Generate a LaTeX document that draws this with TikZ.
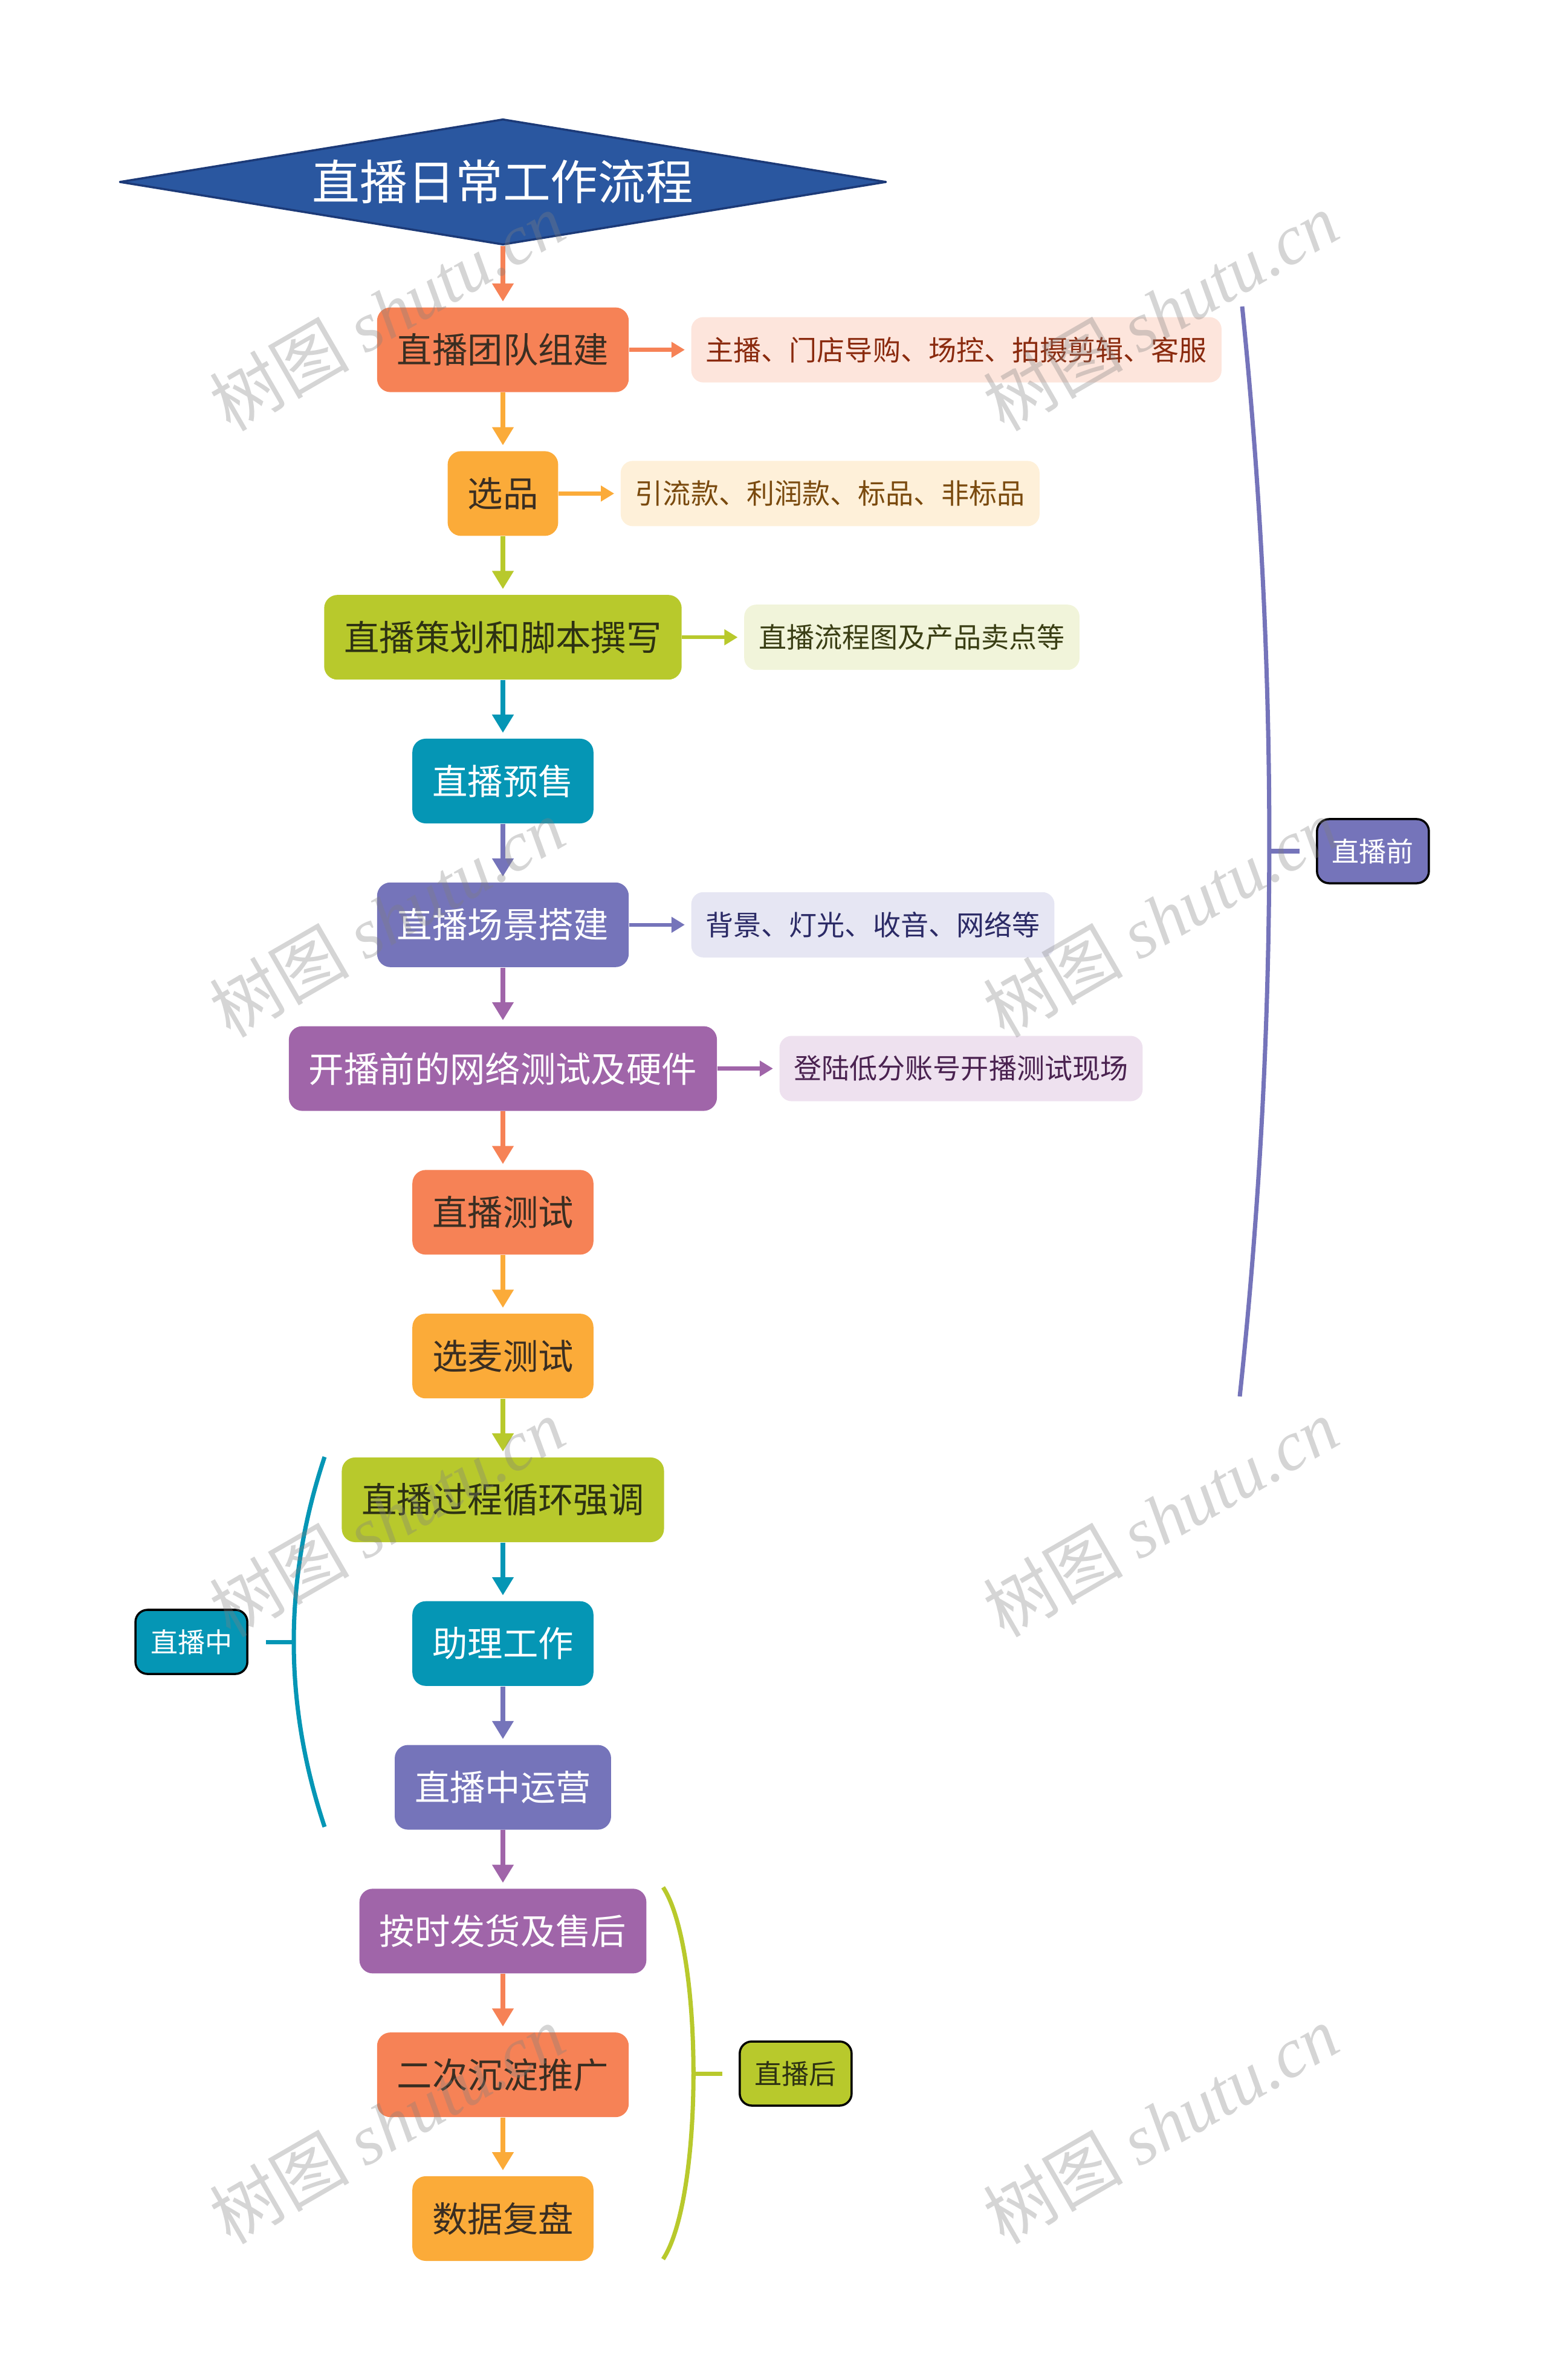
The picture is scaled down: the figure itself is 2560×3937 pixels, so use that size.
\documentclass[tikz,border=0pt]{standalone}
\usepackage{fontspec}
\setmainfont{Noto Sans CJK SC}
\newfontfamily\wmfont{Liberation Serif}
\usetikzlibrary{arrows.meta,positioning,shapes.geometric}

\definecolor{cblue}{HTML}{2A57A0}
\definecolor{cblueline}{HTML}{1C3A78}
\definecolor{corange}{HTML}{F68256}
\definecolor{cyellow}{HTML}{FBAB39}
\definecolor{clime}{HTML}{B8C92C}
\definecolor{cteal}{HTML}{0596B5}
\definecolor{cindigo}{HTML}{7574BA}
\definecolor{cpurple}{HTML}{A065A9}
\definecolor{ctextdark}{HTML}{3A2E22}
\definecolor{ctextlime}{HTML}{2D3113}
\definecolor{nfillorange}{HTML}{FDE5DC}
\definecolor{nfillyellow}{HTML}{FEF0D9}
\definecolor{nfilllime}{HTML}{F1F4DA}
\definecolor{nfillindigo}{HTML}{E6E6F3}
\definecolor{nfillpurple}{HTML}{EEE1EF}
\definecolor{ntextorange}{HTML}{8A2A0E}
\definecolor{ntextyellow}{HTML}{7A4A0E}
\definecolor{ntextlime}{HTML}{3A3E14}
\definecolor{ntextindigo}{HTML}{2B2A66}
\definecolor{ntextpurple}{HTML}{4A2250}

\tikzset{
  proc/.style 2 args={fill=#1, text=#2, rounded corners=0.22cm, minimum height=1.4cm,
    inner xsep=0.33cm, inner ysep=0pt, font=\fontsize{16.6pt}{20pt}\selectfont},
  memo/.style 2 args={fill=#1, text=#2, rounded corners=0.2cm, minimum height=1.08cm,
    inner xsep=0.24cm, inner ysep=0pt, font=\fontsize{13.1pt}{16pt}\selectfont},
  phase/.style 2 args={draw=black, line width=1pt, fill=#1, text=#2, rounded corners=0.2cm,
    minimum height=1.06cm, inner xsep=0.25cm, inner ysep=0pt, font=\fontsize{12.8pt}{15pt}\selectfont},
  flow/.style={draw=#1, line width=2.4pt, -{Triangle[width=0.34cm,length=0.3cm]}, shorten >=0.09cm},
  noteflow/.style={draw=#1, line width=1.8pt, -{Triangle[width=0.25cm,length=0.22cm]}, shorten >=0.1cm},
  phaseline/.style={draw=#1, line width=2pt},
}

\begin{document}
\begin{tikzpicture}[x=0.01cm, y=-0.01cm]

\useasboundingbox (0,0) rectangle (2560,3937);

\node (title) [shape=diamond, aspect=6, fill=cblue, draw=cblueline, line width=1pt, line join=round,
  minimum width=12.68cm, minimum height=2.08cm, inner sep=0pt, text=white,
  font=\fontsize{22.4pt}{26pt}\selectfont] at (832,301) {直播日常工作流程};

\node (team)    [proc={corange}{ctextdark}, below=1.01cm of title] {直播团队组建};
\node (pick)    [proc={cyellow}{ctextdark}, below=0.9625cm of team] {选品};
\node (script)  [proc={clime}{ctextlime}, below=0.9625cm of pick] {直播策划和脚本撰写};
\node (presale) [proc={cteal}{white}, below=0.9625cm of script] {直播预售};
\node (scene)   [proc={cindigo}{white}, below=0.9625cm of presale] {直播场景搭建};
\node (nettest) [proc={cpurple}{white}, below=0.9625cm of scene] {开播前的网络测试及硬件};
\node (trial)   [proc={corange}{ctextdark}, below=0.9625cm of nettest] {直播测试};
\node (mic)     [proc={cyellow}{ctextdark}, below=0.9625cm of trial] {选麦测试};
\node (repeat)  [proc={clime}{ctextlime}, below=0.9625cm of mic] {直播过程循环强调};
\node (helper)  [proc={cteal}{white}, below=0.9625cm of repeat] {助理工作};
\node (operate) [proc={cindigo}{white}, below=0.9625cm of helper] {直播中运营};
\node (ship)    [proc={cpurple}{white}, below=0.9625cm of operate] {按时发货及售后};
\node (promote) [proc={corange}{ctextdark}, below=0.9625cm of ship] {二次沉淀推广};
\node (review)  [proc={cyellow}{ctextdark}, below=0.9625cm of promote] {数据复盘};

\node (teamnote)   [memo={nfillorange}{ntextorange}, right=1.02cm of team] {主播、门店导购、场控、拍摄剪辑、客服};
\node (picknote)   [memo={nfillyellow}{ntextyellow}, right=1.02cm of pick] {引流款、利润款、标品、非标品};
\node (scriptnote) [memo={nfilllime}{ntextlime}, right=1.02cm of script] {直播流程图及产品卖点等};
\node (scenenote)  [memo={nfillindigo}{ntextindigo}, right=1.02cm of scene] {背景、灯光、收音、网络等};
\node (netnote)    [memo={nfillpurple}{ntextpurple}, right=1.02cm of nettest] {登陆低分账号开播测试现场};

\draw[flow=corange] (title) -- (team);
\draw[flow=cyellow] (team) -- (pick);
\draw[flow=clime] (pick) -- (script);
\draw[flow=cteal] (script) -- (presale);
\draw[flow=cindigo] (presale) -- (scene);
\draw[flow=cpurple] (scene) -- (nettest);
\draw[flow=corange] (nettest) -- (trial);
\draw[flow=cyellow] (trial) -- (mic);
\draw[flow=clime] (mic) -- (repeat);
\draw[flow=cteal] (repeat) -- (helper);
\draw[flow=cindigo] (helper) -- (operate);
\draw[flow=cpurple] (operate) -- (ship);
\draw[flow=corange] (ship) -- (promote);
\draw[flow=cyellow] (promote) -- (review);

\draw[noteflow=corange] (team) -- (teamnote);
\draw[noteflow=cyellow] (pick) -- (picknote);
\draw[noteflow=clime] (script) -- (scriptnote);
\draw[noteflow=cindigo] (scene) -- (scenenote);
\draw[noteflow=cpurple] (nettest) -- (netnote);

% phase brackets
\coordinate (pretop) at (2055,507);
\coordinate (prebot) at (2051,2310);
\coordinate (premid) at (2100,1408);
\draw[phaseline=cindigo] (pretop) .. controls (2116,1108) and (2115,1709) .. (prebot);
\node (pre) [phase={cindigo}{white}, right=0.77cm of premid] {直播前};
\draw[phaseline=cindigo, shorten >=0.27cm] (premid) -- (pre);

\coordinate (livetop) at (537,2410);
\coordinate (livebot) at (537,3022);
\coordinate (livemid) at (486,2716);
\draw[phaseline=cteal] (livetop) .. controls (469,2614) and (469,2818) .. (livebot);
\node (live) [phase={cteal}{white}, left=0.75cm of livemid] {直播中};
\draw[phaseline=cteal, shorten >=0.29cm] (livemid) -- (live);

\coordinate (posttop) at (1097,3122);
\coordinate (postbot) at (1097,3737);
\coordinate (postmid) at (1147,3430);
\draw[phaseline=clime] (posttop) .. controls (1164,3224) and (1164,3635) .. (postbot);
\node (post) [phase={clime}{ctextlime}, right=0.75cm of postmid] {直播后};
\draw[phaseline=clime, shorten >=0.27cm] (postmid) -- (post);

% watermarks
\foreach \wx/\wy [count=\k] in {640/515, 1920/515, 640/1518, 1920/1518,
                                640/2510, 1920/2510, 640/3514, 1920/3514}
  \node (wm\k) [rotate=30, text=gray, opacity=0.33, font=\fontsize{33pt}{38pt}\selectfont]
    at (\wx,\wy) {树图 {\wmfont\itshape shutu.cn}};

\end{tikzpicture}
\end{document}
